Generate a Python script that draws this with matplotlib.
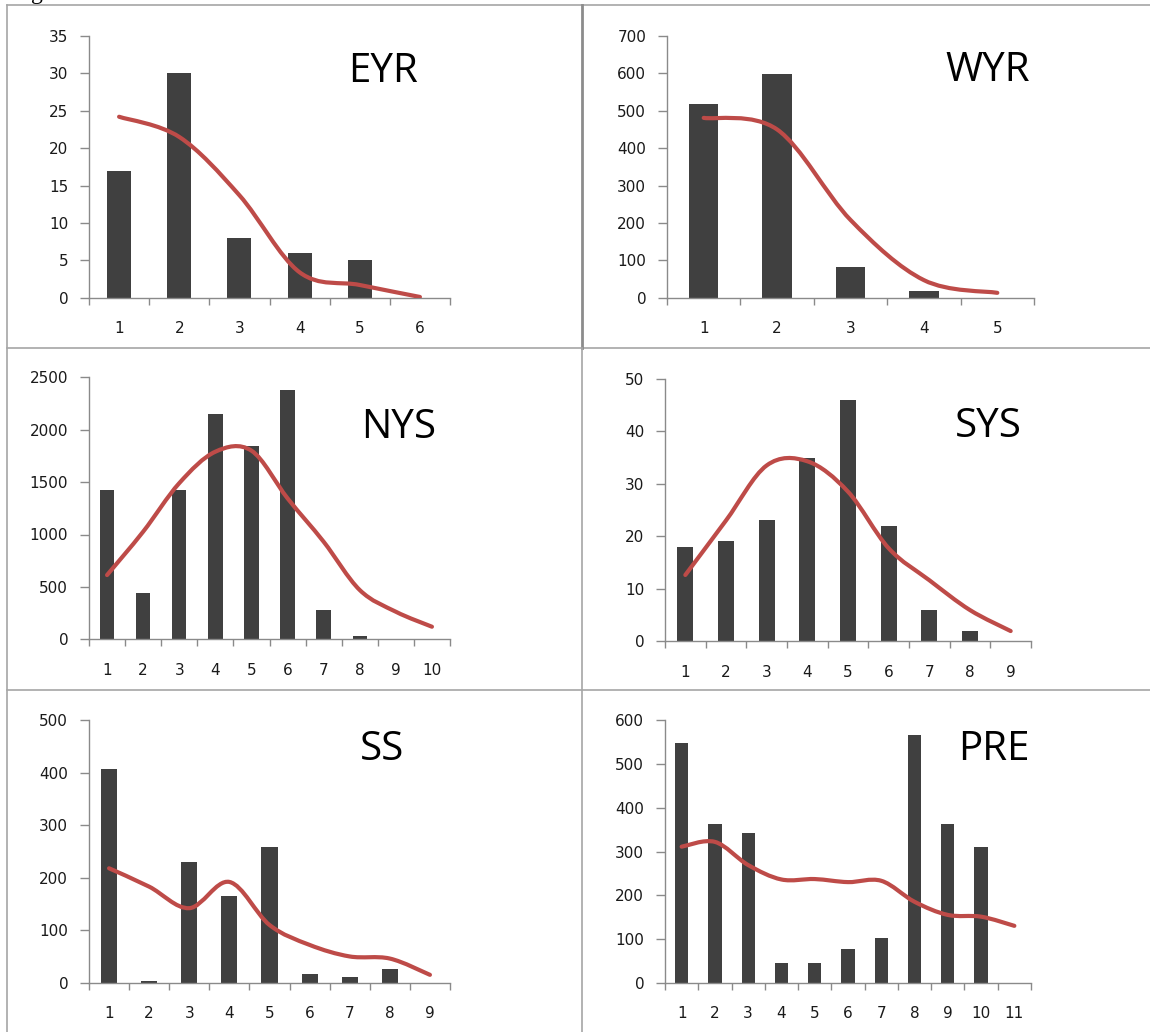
import matplotlib
matplotlib.use("Agg")
import matplotlib.pyplot as plt
from matplotlib.path import Path
from matplotlib.patches import PathPatch
from matplotlib.lines import Line2D

# panel names and values
names = ['EYR', 'WYR', 'NYS', 'SYS', 'SS', 'PRE']

eyr_bars = [17, 30, 8, 6, 5, 0]
eyr_line = [24.2, 21.5, 13.7, 3.4, 1.7, 0.1]

wyr_bars = [517, 598, 82, 19, 0]
wyr_line = [481, 450, 208, 47, 13]

nys_bars = [1425, 440, 1425, 2150, 1845, 2375, 280, 35, 0, 0]
nys_line = [613, 1027, 1490, 1790, 1800, 1345, 931, 470, 263, 120]

sys_bars = [18, 19, 23, 35, 46, 22, 6, 2, 0]
sys_line = [12.6, 23, 33.5, 34.3, 28.5, 17.7, 11.6, 5.9, 1.9]

ss_bars = [408, 4, 230, 165, 259, 17, 11, 27, 0]
ss_line = [218, 183, 142, 192, 110, 72, 50, 46, 15]

pre_bars = [547, 362, 342, 44, 44, 78, 102, 566, 362, 311, 0]
pre_line = [311, 322, 269, 236, 237, 230, 233, 185, 155, 151, 130]

bars = [eyr_bars, wyr_bars, nys_bars, sys_bars, ss_bars, pre_bars]
lines = [eyr_line, wyr_line, nys_line, sys_line, ss_line, pre_line]
ymax = [35, 700, 2500, 50, 500, 600]
ystep = [5, 100, 500, 10, 100, 100]

W, H = 1150, 1032
# axes boxes in pixels: x0, x1, y0(top), y1(bottom)
boxes = [(89, 450, 36, 297.7), (667, 1034, 36, 297.7),
         (89, 450, 377.3, 639.3), (665, 1031, 379, 641),
         (89, 450, 720.3, 982.7), (665, 1031, 720.3, 982.7)]
# panel label: left x, baseline y (pixels)
label_pos = [(348, 82), (945, 81), (361, 437.5), (955, 437), (360, 760), (958, 760.5)]

bar_color = '#404040'
line_color = '#BE4B48'
axis_color = '#8a8a8a'
text_color = '#1a1a1a'


def smooth_path(xs, ys):
    # Excel style smoothed line: cubic bezier through every point
    pts = list(zip(xs, ys))
    n = len(pts)
    verts = [pts[0]]
    codes = [Path.MOVETO]
    for i in range(n - 1):
        p0 = pts[max(i - 1, 0)]
        p1 = pts[i]
        p2 = pts[i + 1]
        p3 = pts[min(i + 2, n - 1)]
        c1 = (p1[0] + (p2[0] - p0[0]) / 6, p1[1] + (p2[1] - p0[1]) / 6)
        c2 = (p2[0] - (p3[0] - p1[0]) / 6, p2[1] - (p3[1] - p1[1]) / 6)
        verts += [c1, c2, p2]
        codes += [Path.CURVE4] * 3
    return Path(verts, codes)


fig = plt.figure(figsize=(W / 100, H / 100), dpi=100)

for k in range(6):
    x0, x1, y0, y1 = boxes[k]
    ax = fig.add_axes([x0 / W, 1 - y1 / H, (x1 - x0) / W, (y1 - y0) / H])
    vals = bars[k]
    n = len(vals)
    xs = list(range(1, n + 1))
    ax.bar(xs, vals, width=0.4, color=bar_color, zorder=2)
    path = smooth_path(xs, lines[k])
    ax.add_patch(PathPatch(path, fill=False, edgecolor=line_color, lw=3.0,
                           capstyle='round', joinstyle='round', zorder=3))
    ax.set_xlim(0.5, n + 0.5)
    ax.set_ylim(0, ymax[k])
    ax.set_yticks(range(0, ymax[k] + 1, ystep[k]))
    ax.set_xticks(xs)
    ax.set_xticks([i + 0.5 for i in range(n + 1)], minor=True)
    for s in ['top', 'right']:
        ax.spines[s].set_visible(False)
    for s in ['left', 'bottom']:
        ax.spines[s].set_color(axis_color)
        ax.spines[s].set_linewidth(1.0)
    ax.tick_params(axis='y', length=6.5, width=1.0, color=axis_color,
                   labelsize=11, labelcolor=text_color, pad=8.5)
    ax.tick_params(axis='x', which='major', length=0, labelsize=11,
                   labelcolor=text_color, pad=17)
    ax.tick_params(axis='x', which='minor', length=5, width=1.0, color=axis_color)
    ax.patch.set_alpha(0)

    lx, ly = label_pos[k]
    fig.text(lx / W, 1 - ly / H, names[k], fontsize=29, family='Open Sans',
             color='black', ha='left', va='baseline')

# panel frame lines
frame = '#a6a6a6'


def hline(y, xa, xb, c=frame, lw=1.2):
    fig.add_artist(Line2D([xa / W, xb / W], [1 - y / H, 1 - y / H], color=c, lw=lw))


def vline(x, ya, yb, c=frame, lw=1.2):
    fig.add_artist(Line2D([x / W, x / W], [1 - ya / H, 1 - yb / H], color=c, lw=lw))


hline(5, 7, W)
hline(348, 7, W)
hline(690, 7, W)
vline(7, 5, H)
vline(581.5, 5, 348, c='#8c8c8c', lw=2.0)
vline(581.5, 348, H)

# cut off caption text at the very top
fig.text(31 / W, 1 + 1.5 / H, 'g', fontsize=17, family='Liberation Serif',
         color='black', ha='left', va='baseline')

fig.savefig('out.png', dpi=100)
